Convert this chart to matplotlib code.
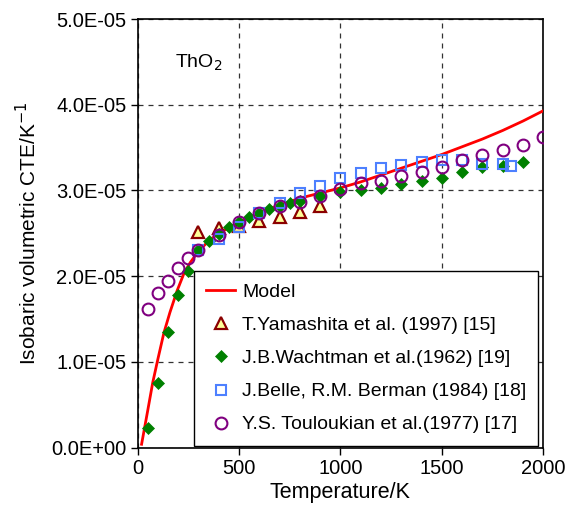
import matplotlib.pyplot as plt
import numpy as np

plt.rcParams['font.family'] = ['Liberation Sans', 'DejaVu Sans']

# Model curve
model_T = [20, 50, 75, 100, 130, 160, 195, 230, 260, 300, 350, 400, 500, 600,
           700, 800, 900, 1000, 1100, 1200, 1300, 1400, 1500, 1600, 1700,
           1800, 1900, 2000]
model_cte = [0.04, 0.43, 0.76, 1.03, 1.34, 1.58, 1.83, 2.04, 2.16, 2.29, 2.41,
             2.50, 2.63, 2.74, 2.83, 2.91, 2.97, 3.03, 3.10, 3.18, 3.26, 3.34,
             3.42, 3.51, 3.60, 3.70, 3.81, 3.93]

# T.Yamashita et al. (1997)
yam_T = [300, 400, 500, 600, 700, 800, 900]
yam_cte = [2.52, 2.56, 2.58, 2.64, 2.69, 2.75, 2.82]

# J.B.Wachtman et al. (1962)
wac_T = [50, 100, 150, 200, 250, 300, 350, 400, 450, 500, 550, 600, 650, 700,
         750, 800, 900, 1000, 1100, 1200, 1300, 1400, 1500, 1600, 1700, 1800,
         1900]
wac_cte = [0.23, 0.75, 1.35, 1.78, 2.06, 2.30, 2.41, 2.49, 2.57, 2.63, 2.69,
           2.74, 2.78, 2.82, 2.85, 2.88, 2.94, 2.98, 3.00, 3.03, 3.08, 3.11,
           3.14, 3.21, 3.27, 3.28, 3.33]

# J.Belle, R.M. Berman (1984)
bel_T = [300, 400, 500, 600, 700, 800, 900, 1000, 1100, 1200, 1300, 1400,
         1500, 1600, 1700, 1800, 1840]
bel_cte = [2.30, 2.43, 2.57, 2.74, 2.85, 2.97, 3.05, 3.14, 3.20, 3.26, 3.30,
           3.33, 3.35, 3.35, 3.31, 3.31, 3.28]

# Y.S. Touloukian et al. (1977)
tou_T = [50, 100, 150, 200, 250, 300, 400, 500, 600, 700, 800, 900, 1000,
         1100, 1200, 1300, 1400, 1500, 1600, 1700, 1800, 1900, 2000]
tou_cte = [1.62, 1.80, 1.95, 2.09, 2.21, 2.31, 2.48, 2.63, 2.74, 2.82, 2.87,
           2.94, 3.02, 3.09, 3.11, 3.17, 3.21, 3.27, 3.35, 3.41, 3.47, 3.53,
           3.62]

scale = 1e-5


def main():
    fig = plt.figure(figsize=(5.69, 5.11), dpi=100)
    ax = fig.add_axes([0.2417, 0.1239, 0.7131, 0.8389])

    ax.plot(model_T, np.array(model_cte) * scale, color='#ff0000', lw=2,
            label='Model', zorder=3)
    ax.plot(yam_T, np.array(yam_cte) * scale, ls='none', marker='^', ms=8,
            mfc='#ffff99', mec='#8b0000', mew=1.6,
            label='T.Yamashita et al. (1997) [15]', zorder=4)
    ax.plot(wac_T, np.array(wac_cte) * scale, ls='none', marker='D', ms=6,
            mfc='#008000', mec='#008000', mew=0.5,
            label='J.B.Wachtman et al.(1962) [19]', zorder=5)
    ax.plot(bel_T, np.array(bel_cte) * scale, ls='none', marker='s', ms=7,
            mfc='none', mec='#4d80ff', mew=1.5,
            label='J.Belle, R.M. Berman (1984) [18]', zorder=6)
    ax.plot(tou_T, np.array(tou_cte) * scale, ls='none', marker='o', ms=8.5,
            mfc='none', mec='#800080', mew=1.5,
            label='Y.S. Touloukian et al.(1977) [17]', zorder=7)

    ax.set_xlim(0, 2000)
    ax.set_ylim(0, 5e-5)
    ax.set_xticks([0, 500, 1000, 1500, 2000])
    ax.set_yticks(np.arange(0, 6) * 1e-5)
    ax.set_yticklabels([f'{v:.1E}' for v in np.arange(0, 6) * 1e-5])
    ax.tick_params(direction='out', length=5, width=1, labelsize=14.5,
                   colors='black', pad=3)
    ax.grid(True, color='black', ls=(0, (4, 4)), lw=0.9, alpha=0.8)
    ax.set_axisbelow(True)
    for sp in ax.spines.values():
        sp.set_linewidth(1.2)

    ax.set_xlabel('Temperature/K', fontsize=15.5, labelpad=3)
    ax.set_ylabel('Isobaric volumetric CTE/K$^{-1}$', fontsize=15,
                  labelpad=8)
    ax.text(0.092, 0.897, 'ThO$_2$', transform=ax.transAxes, fontsize=14,
            va='center')

    leg = ax.legend(loc='lower left', bbox_to_anchor=(0.139, 0.005),
                    fontsize=14, frameon=True, fancybox=False,
                    edgecolor='black', framealpha=1, handlelength=1.5,
                    handletextpad=0.35, labelspacing=0.8, borderpad=0.62,
                    borderaxespad=0)
    leg.get_frame().set_linewidth(1.0)
    leg.set_zorder(10)

    fig.savefig('out.png', dpi=100)


if __name__ == "__main__":
    main()
